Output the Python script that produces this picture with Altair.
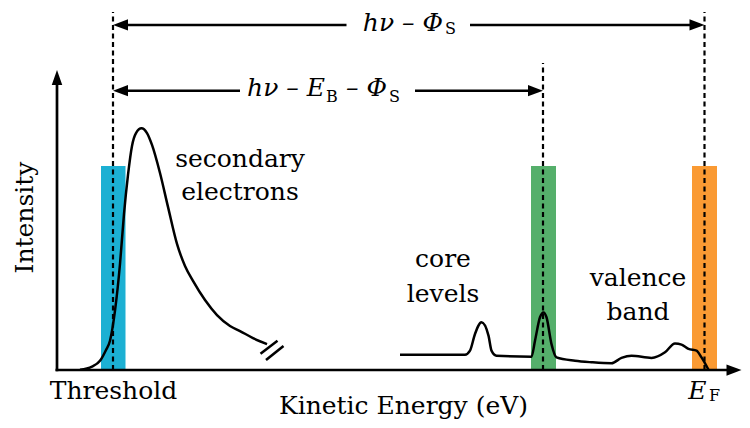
import altair as alt
import pandas as pd

# ---------------- data (kinetic energy in arbitrary units, intensity: secondary peak = 100)
secondary_energy = [4.6, 7.0, 8.6, 9.8, 10.6, 11.6, 12.6, 13.4, 14.2, 15.0, 15.8, 16.9,
                    18.0, 19.0, 20.6, 22.2, 24.0, 25.6, 27.2, 29.6, 32.0, 34.6, 36.6, 39.2, 42.0]
secondary_intensity = [0.1, 1.4, 3.8, 8.3, 12.1, 24.5, 43.8, 64.5, 80.6, 92.6, 97.9, 99.9,
                       97.9, 93.0, 81.4, 67.4, 52.1, 43.0, 36.8, 28.9, 22.7, 18.2, 16.1, 13.2, 10.7]

spectrum_energy = [68.6, 81.6, 82.6, 83.6, 84.9, 86.3, 86.9, 87.9, 94.9, 95.6, 96.6, 97.3,
                   97.9, 98.9, 99.9, 103.6, 106.9, 110.9, 112.9, 114.9, 118.9, 121.6,
                   123.6, 124.9, 126.3, 127.9, 128.9, 130.3]
spectrum_intensity = [6.3, 6.3, 8.0, 14.9, 19.7, 14.2, 8.0, 5.9, 5.5, 12.1, 21.8, 23.8,
                      21.8, 10.7, 5.2, 3.8, 3.2, 2.8, 5.0, 5.9, 5.0, 7.3,
                      11.0, 10.5, 8.7, 8.0, 5.2, 0.1]

band_names = ["threshold", "core", "fermi"]
band_low = [8.8, 94.8, 127.0]
band_high = [13.7, 99.8, 132.0]
band_top = [84.3, 84.3, 84.3]
band_colors = ["#1CB0D3", "#55AF6B", "#FA9A33"]

marker_energy = [11.2, 97.2, 129.5]
marker_top = [147.9, 126.9, 147.9]

# arrows: level, start (tip at threshold), end (tip), label gap
arrow_level = [142.6, 115.4]
arrow_start = [11.2, 11.2]
arrow_end = [129.5, 97.2]
gap_low = [57.9, 36.6]
gap_high = [82.6, 71.6]

break_x1 = [40.7, 41.8]
break_x2 = [44.1, 45.3]
break_y1 = [6.7, 4.1]
break_y2 = [12.1, 9.9]

# ---------------- layout
W, H = 734, 412
xs = alt.Scale(domain=[-9.8, (8 + W - 57) / 5], nice=False, zero=False)
ys = alt.Scale(domain=[(370 - 8 - H) / 2.42, (370 - 8) / 2.42], nice=False, zero=False)
FONT = "DejaVu Serif"


def X(f="x"):
    return alt.X(f"{f}:Q", scale=xs, axis=None)


def Y(f="y"):
    return alt.Y(f"{f}:Q", scale=ys, axis=None)


curve_df = pd.DataFrame({
    "x": secondary_energy + spectrum_energy,
    "y": secondary_intensity + spectrum_intensity,
    "seg": ["secondary"] * len(secondary_energy) + ["spectrum"] * len(spectrum_energy),
    "order": list(range(len(secondary_energy))) + list(range(len(spectrum_energy))),
})

band_df = pd.DataFrame({"name": band_names, "x": band_low, "x2": band_high,
                        "y": [0] * 3, "y2": band_top})
bands = alt.Chart(band_df).mark_rect().encode(
    x=X(), x2="x2:Q", y=Y(), y2="y2:Q",
    color=alt.Color("name:N", scale=alt.Scale(domain=band_names, range=band_colors), legend=None),
)

curve = alt.Chart(curve_df).mark_line(color="black", strokeWidth=2.5, interpolate="monotone").encode(
    x=X(), y=Y(), detail="seg:N", order="order:Q")

marker_df = pd.DataFrame({"x": marker_energy, "y": [0] * 3, "y2": marker_top})
markers = alt.Chart(marker_df).mark_rule(color="black", strokeWidth=2.2, strokeDash=[5, 3.5]).encode(
    x=X(), y=Y(), y2="y2:Q")

seg_df = pd.DataFrame({
    "x": [arrow_start[0] + 1, gap_high[0], arrow_start[1] + 1, gap_high[1]],
    "x2": [gap_low[0], arrow_end[0] - 1, gap_low[1], arrow_end[1] - 1],
    "y": [arrow_level[0], arrow_level[0], arrow_level[1], arrow_level[1]],
})
arrow_lines = alt.Chart(seg_df).mark_rule(color="black", strokeWidth=2.5).encode(
    x=X(), x2="x2:Q", y=Y())

axis_df = pd.DataFrame({"x": [-0.3, 0.0], "x2": [135.3, 0.0], "y": [0.0, -0.5], "y2": [0.0, 120.0]})
axes = alt.Chart(axis_df).mark_rule(color="black", strokeWidth=2.7).encode(
    x=X(), x2="x2:Q", y=Y(), y2="y2:Q")

break_df = pd.DataFrame({"x": break_x1, "x2": break_x2, "y": break_y1, "y2": break_y2})
breaks = alt.Chart(break_df).mark_rule(color="black", strokeWidth=2.5).encode(
    x=X(), x2="x2:Q", y=Y(), y2="y2:Q")

LEFT = "M0,0L2,-0.75L2,0.75Z"
RIGHT = "M0,0L-2,-0.75L-2,0.75Z"
UP = "M0,0L-0.7,2L0.7,2Z"


def heads(xv, yv, shape):
    return alt.Chart(pd.DataFrame({"x": xv, "y": yv})).mark_point(
        shape=shape, filled=True, size=225, opacity=1, color="black", strokeWidth=0
    ).encode(x=X(), y=Y())


heads_left = heads(arrow_start, arrow_level, LEFT)
heads_right = heads(arrow_end + [136.9], arrow_level + [0.0], RIGHT)
heads_up = heads([0.0], [124.0], UP)

# ---------------- text
label_text = ["secondary", "electrons", "core", "levels", "valence", "band",
              "Threshold", "Kinetic Energy (eV)"]
label_x = [36.6, 36.6, 77.2, 77.2, 116.2, 116.2, 11.3, 69.3]
label_y = [83.9, 70.2, 42.6, 28.1, 34.7, 20.7, -12.0, -18.2]
labels = alt.Chart(pd.DataFrame({"t": label_text, "x": label_x, "y": label_y})).mark_text(
    font=FONT, fontSize=25, align="center", baseline="alphabetic", color="black"
).encode(x=X(), y=Y(), text="t:N")

ylab = alt.Chart(pd.DataFrame({"t": ["Intensity"], "x": [-4.8], "y": [63.0]})).mark_text(
    font=FONT, fontSize=25, align="center", baseline="alphabetic", angle=270, color="black"
).encode(x=X(), y=Y(), text="t:N")

math_text = ["hν – Φ", "hν – E", "– Φ", "E"]
math_x = [77.2, 53.6, 66.0, 129.9]
math_y = [140.1, 113.3, 113.3, -12.0]
math = alt.Chart(pd.DataFrame({"t": math_text, "x": math_x, "y": math_y})).mark_text(
    font=FONT, fontSize=25, fontStyle="italic", align="right", baseline="alphabetic", color="black"
).encode(x=X(), y=Y(), text="t:N")

sub_text = ["S", "B", "S", "F"]
sub_x = [77.6, 53.8, 66.4, 130.4]
sub_y = [139.0, 110.9, 110.9, -12.7]
subs = alt.Chart(pd.DataFrame({"t": sub_text, "x": sub_x, "y": sub_y})).mark_text(
    font=FONT, fontSize=16, align="left", baseline="alphabetic", color="black"
).encode(x=X(), y=Y(), text="t:N")

chart = alt.layer(
    bands, curve, markers, axes, arrow_lines, breaks,
    heads_left, heads_right, heads_up, labels, ylab, math, subs
).properties(
    width=W, height=H, padding=0, autosize=alt.AutoSizeParams(type="none")
).configure_view(stroke=None)

chart.save("out.html", embed_options={"renderer": "svg", "actions": False})
